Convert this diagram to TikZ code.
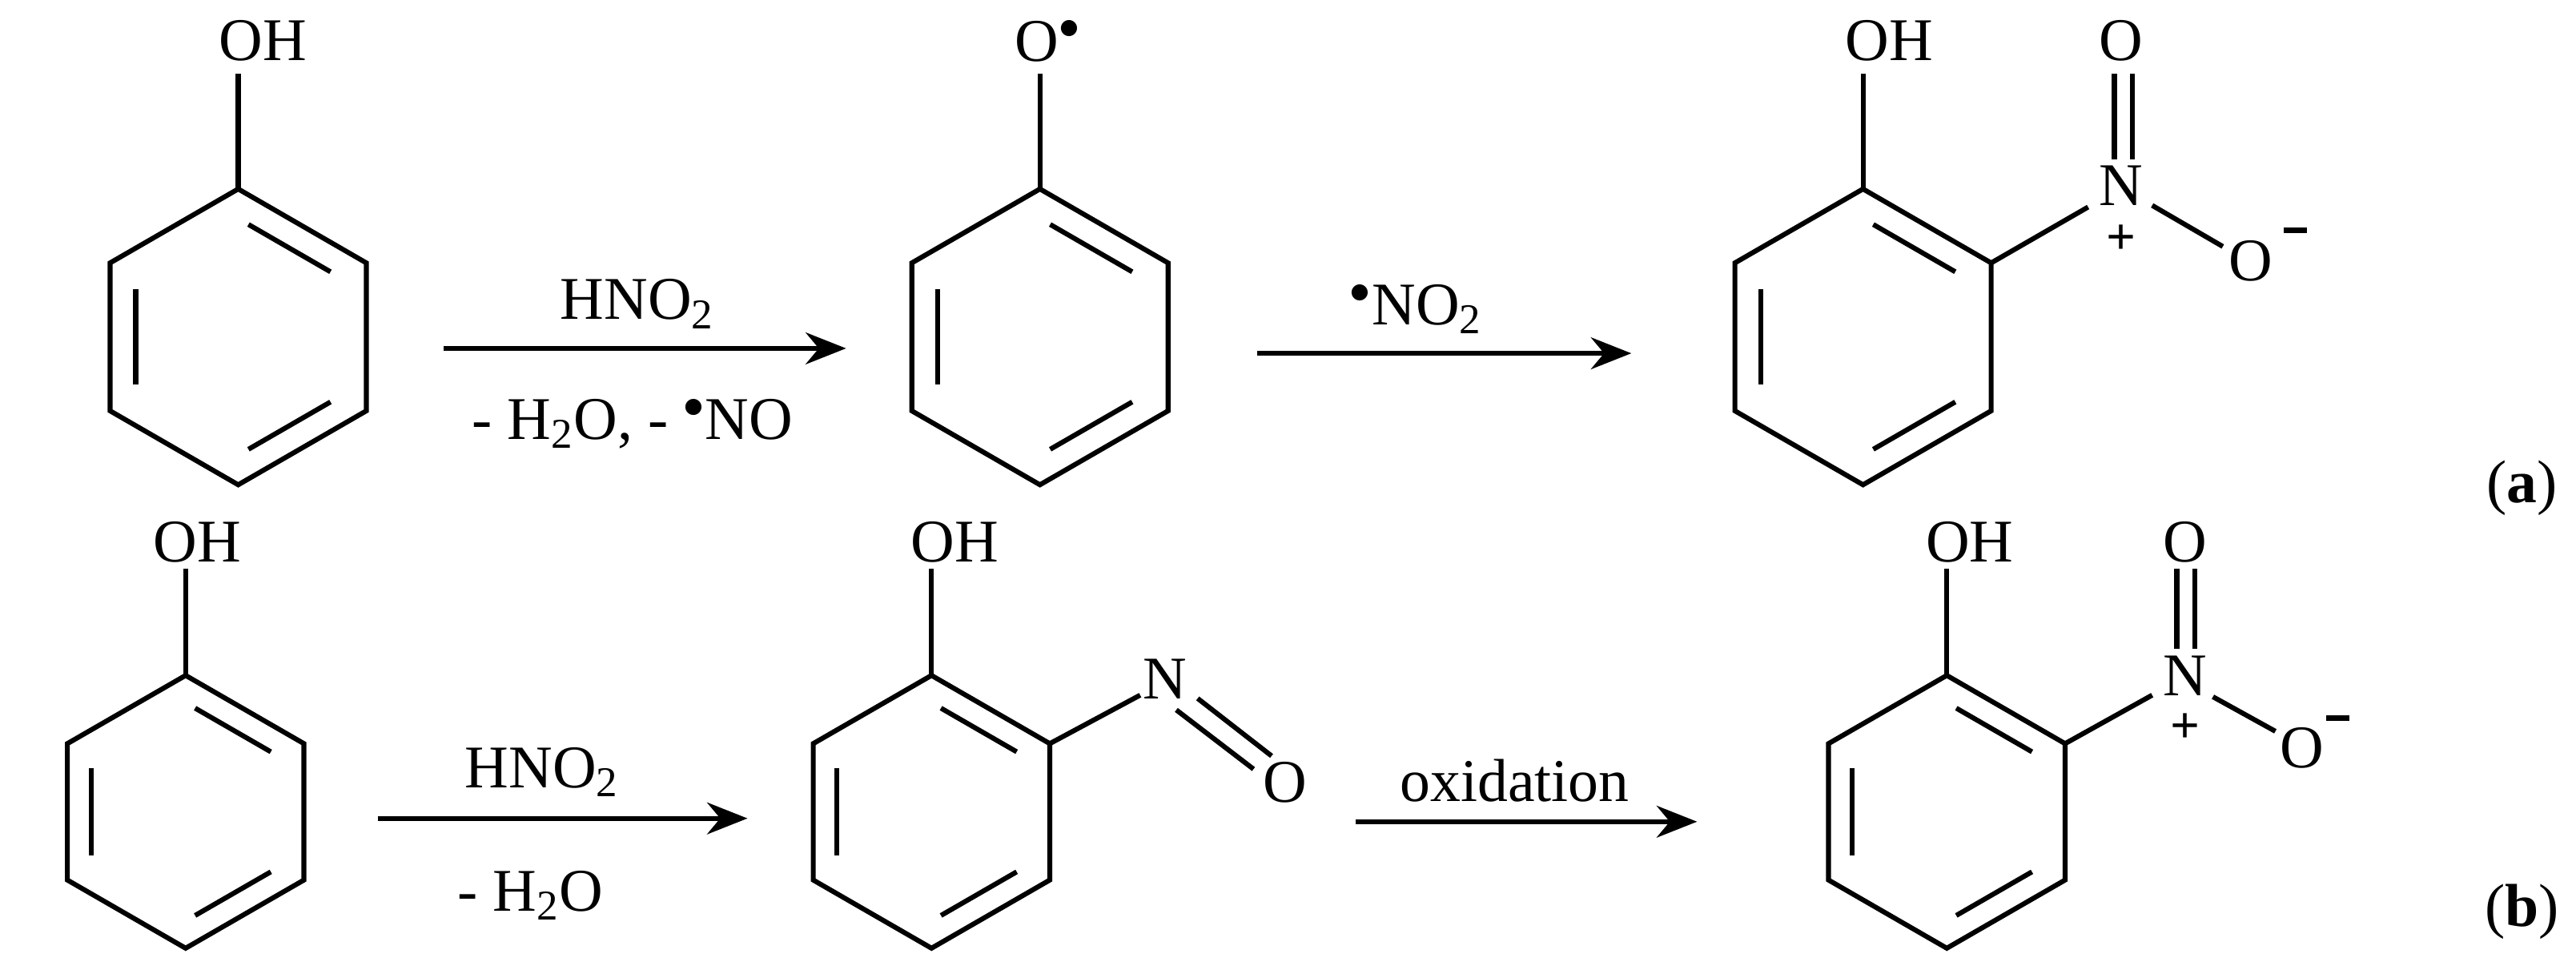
\documentclass[tikz,border=0pt]{standalone}
\usepackage{fontspec}
\setmainfont{Liberation Serif}
\usetikzlibrary{calc,arrows.meta}
\tikzset{
  bond/.style={line width=1.7pt, line join=miter},
  atom/.style={inner sep=2pt, font=\fontsize{21}{24}\selectfont},
  chg/.style={inner sep=0pt},
  rxn/.style={line width=1.7pt, -{Stealth[length=14pt,width=11pt]}},
  cond/.style={font=\fontsize{21}{24}\selectfont}
}
\newcommand\hexring[5]{%
  \coordinate (#1-t) at (#2,#3);
  \coordinate (#1-ur) at ({#2+#4},{#3+0.25*#5});
  \coordinate (#1-lr) at ({#2+#4},{#3+0.75*#5});
  \coordinate (#1-b) at (#2,{#3+#5});
  \coordinate (#1-ll) at ({#2-#4},{#3+0.75*#5});
  \coordinate (#1-ul) at ({#2-#4},{#3+0.25*#5});
  \coordinate (#1-c) at (#2,{#3+0.5*#5});
  \draw[bond] (#1-t)--(#1-ur)--(#1-lr)--(#1-b)--(#1-ll)--(#1-ul)--cycle;
  \draw[bond] ($($(#1-t)!0.2!(#1-c)$)!0.1!($(#1-ur)!0.2!(#1-c)$)$)--($($(#1-t)!0.2!(#1-c)$)!0.9!($(#1-ur)!0.2!(#1-c)$)$);
  \draw[bond] ($($(#1-ul)!0.2!(#1-c)$)!0.1!($(#1-ll)!0.2!(#1-c)$)$)--($($(#1-ul)!0.2!(#1-c)$)!0.9!($(#1-ll)!0.2!(#1-c)$)$);
  \draw[bond] ($($(#1-lr)!0.2!(#1-c)$)!0.1!($(#1-b)!0.2!(#1-c)$)$)--($($(#1-lr)!0.2!(#1-c)$)!0.9!($(#1-b)!0.2!(#1-c)$)$);
}
\newcommand\minus{\rule[0pt]{8pt}{2pt}}
\newcommand\plus{\textbf{\fontsize{18}{20}\selectfont +}}
\begin{document}
\begin{tikzpicture}[x=0.02cm,y=-0.02cm]
\useasboundingbox (0,0) rectangle (1568,590);
% ---- row (a)
\hexring{A}{145}{115}{78}{180}
\node[atom] (A-oh) at (160,25) {OH};
\draw[bond] (A-t) -- (145,45);
\hexring{B}{633}{115}{78}{180}
\node[atom] (B-o) at (638,25) {O$^\bullet$};
\draw[bond] (B-t) -- (633,45);
\hexring{C}{1134}{115}{78}{180}
\node[atom] (C-oh) at (1150,25) {OH};
\draw[bond] (C-t) -- (1134,45);
\node[atom] (C-n) at (1291,113) {N};
\node[atom] (C-o1) at (1291,25) {O};
\node[atom] (C-o2) at (1370,159) {O};
\node[chg] at (1397,140) {\minus};
\node[chg] at (1291,146) {\plus};
\draw[bond] (C-ur) -- (1271,126);
\draw[bond] (1287,97) -- (1287,45);
\draw[bond] (1298,97) -- (1298,45);
\draw[bond] (1310,125) -- (1353,150);
\coordinate (a1s) at (270,212); \coordinate (a1e) at (515,212);
\draw[rxn] (a1s) -- (a1e);
\node[cond] at (388,185) {HNO\textsubscript{2}};
\node[cond] at (385,258) {- H\textsubscript{2}O, - $^\bullet$NO};
\coordinate (a2s) at (765,215); \coordinate (a2e) at (993,215);
\draw[rxn] (a2s) -- (a2e);
\node[cond] at (862,188) {$^\bullet$NO\textsubscript{2}};
\node[cond] at (1535,297) {(\textbf{a})};
% ---- row (b)
\hexring{D}{113}{411}{72}{166}
\node[atom] (D-oh) at (120,330) {OH};
\draw[bond] (D-t) -- (113,346);
\hexring{E}{567}{411}{72}{166}
\node[atom] (E-oh) at (581,330) {OH};
\draw[bond] (E-t) -- (567,346);
\node[atom] (E-n) at (709,413) {N};
\node[atom] (E-o) at (782,476) {O};
\draw[bond] (E-ur) -- (694,423);
\draw[bond] (716,432) -- (763,468);
\draw[bond] (729,425) -- (774,460);
\hexring{F}{1185}{411}{72}{166}
\node[atom] (F-oh) at (1199,330) {OH};
\draw[bond] (F-t) -- (1185,346);
\node[atom] (F-n) at (1330,411) {N};
\node[atom] (F-o1) at (1330,330) {O};
\node[atom] (F-o2) at (1401,455) {O};
\node[chg] at (1423,437) {\minus};
\node[chg] at (1330,443) {\plus};
\draw[bond] (F-ur) -- (1310,423);
\draw[bond] (1325,395) -- (1325,346);
\draw[bond] (1336,395) -- (1336,346);
\draw[bond] (1347,424) -- (1385,445);
\coordinate (b1s) at (230,498); \coordinate (b1e) at (455,498);
\draw[rxn] (b1s) -- (b1e);
\node[cond] at (330,470) {HNO\textsubscript{2}};
\node[cond] at (323,545) {- H\textsubscript{2}O};
\coordinate (b2s) at (825,500); \coordinate (b2e) at (1033,500);
\draw[rxn] (b2s) -- (b2e);
\node[cond] at (922,475) {oxidation};
\node[cond] at (1535,555) {(\textbf{b})};
\end{tikzpicture}
\end{document}
